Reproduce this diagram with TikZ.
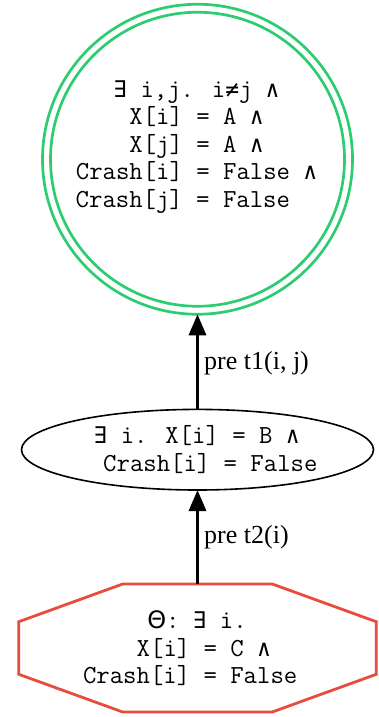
\documentclass[tikz,border=0pt]{standalone}
\usepackage{fontspec}
\usetikzlibrary{shapes.geometric,arrows.meta}
\newfontfamily\symf{DejaVu Sans Mono}
\newfontfamily\thetaf{DejaVu Sans}
\newfontfamily\labf{Liberation Serif}
\definecolor{goalgreen}{HTML}{2ECC71}
\definecolor{initred}{HTML}{E74C3C}
\newcommand\mysym[1]{\makebox[0.525em]{\fontsize{23}{23}\symf #1}}
\newcommand\myex{\mysym{∃}}
\newcommand\myand{\mysym{∧}}
\newcommand\myne{\mysym{≠}}
\newcommand\myblank{\hspace*{0.525em}}
\newcommand\mylines[1]{\vtop{\halign{\hfil##\hfil\cr#1\crcr}}}
\begin{document}
\begin{tikzpicture}[x=1pt,y=-1pt,
  txt/.style={inner sep=0pt, anchor=base, font=\fontsize{26}{27.5}\selectfont\ttfamily},
  lab/.style={inner sep=0pt, anchor=base west, font=\labf\fontsize{26}{30}\selectfont},
  goalring/.style={circle, draw=goalgreen, line width=2.7pt, inner sep=0pt, outer sep=0pt},
  midnode/.style={ellipse, draw=black, line width=1.6pt, inner sep=0pt, outer sep=0pt,
                  minimum width=352pt, minimum height=80.6pt},
  octline/.style={draw=initred, line width=2.8pt, line join=miter},
  edge/.style={line width=3.2pt, -{Triangle[length=21pt,width=17pt]}}]
\useasboundingbox (0,0) rectangle (378,717);

% goal: double circle
\node[goalring, minimum size=310pt] (c) at (197.5,159.25) {};
\node[goalring, minimum size=294pt] (ci) at (197.5,159.25) {};
\node[txt] (ct) at (196.5,97) {\mylines{%
  \myex{} i,j. i\myne{}j \myand\cr
  X[i] = A \myand\cr
  X[j] = A \myand\cr
  Crash[i] = False \myand\cr
  Crash[j] = False\myblank\myblank\cr}};

% middle ellipse
\node[midnode] (e) at (197.5,449.7) {};
\node[txt] (et) at (196.7,443.5) {\mylines{%
  \myex{} i. X[i] = B \myand\cr
  \myblank\myblank Crash[i] = False\cr}};

% initial octagon
\node[inner sep=0pt, outer sep=0pt, minimum width=357.5pt, minimum height=128pt] (o) at (197.5,648) {};
\draw[octline] ([shift={(-74.75,-64)}]o.center) -- ([shift={(74.75,-64)}]o.center)
  -- ([shift={(178.75,-26.3)}]o.center) -- ([shift={(178.75,26.3)}]o.center)
  -- ([shift={(74.75,64)}]o.center) -- ([shift={(-74.75,64)}]o.center)
  -- ([shift={(-178.75,26.3)}]o.center) -- ([shift={(-178.75,-26.3)}]o.center) -- cycle;
\node[txt] (ot) at (197,628.5) {\mylines{%
  {\thetaf\fontsize{24}{24}\selectfont Θ}: \myex{} i.\cr
  \myblank X[i] = C \myand\cr
  Crash[i] = False\myblank\cr}};

% connectors
\draw[edge] (e.north) -- (c.south);
\node[lab] (l1) at (204,369.5) {pre t1(i, j)};
\draw[edge] (o.north) -- (e.south);
\node[lab] (l2) at (204,543) {pre t2(i)};
\end{tikzpicture}
\end{document}
